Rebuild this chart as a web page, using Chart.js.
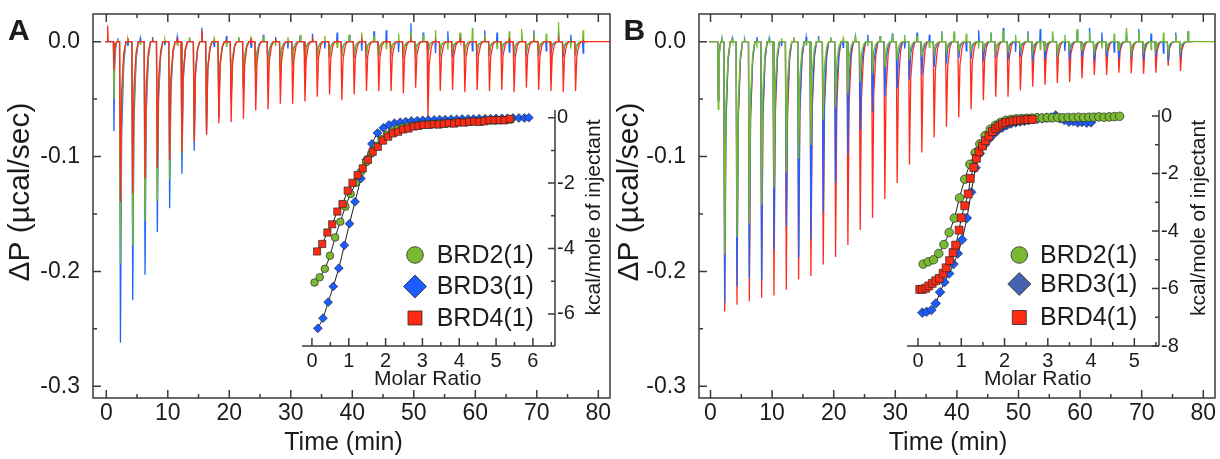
<!DOCTYPE html>
<html>
<head>
<meta charset="utf-8">
<script src="https://cdn.jsdelivr.net/npm/chart.js@4.4.1/dist/chart.umd.min.js"></script>
<style>
  html, body { margin: 0; padding: 0; background: #fff; }
  #wrap { position: relative; width: 1220px; height: 459px; overflow: hidden; }
  canvas { position: absolute; }
</style>
</head>
<body>
<div id="wrap">
  <canvas id="mainA" width="613" height="459" style="left:0;top:0"></canvas>
  <canvas id="mainB" width="614" height="459" style="left:606px;top:0"></canvas>
  <canvas id="insetA" width="315" height="295" style="left:295px;top:100px"></canvas>
  <canvas id="insetB" width="315" height="295" style="left:900px;top:100px"></canvas>
</div>
<script>
// ---- data ----
const seriesNames = ['BRD2(1)', 'BRD3(1)', 'BRD4(1)'];

// injection times (min), same protocol in both experiments
const injTimes = [1.2, 2.2, 4.2, 6.2, 8.2, 10.2, 12.2, 14.2, 16.2, 18.2, 20.2, 22.2, 24.2, 26.2, 28.2, 30.2,
  32.2, 34.2, 36.2, 38.2, 40.2, 42.2, 44.2, 46.2, 48.2, 50.2, 52.2, 54.2, 56.2, 58.2, 60.2, 62.2,
  64.2, 66.2, 68.2, 70.2, 72.2, 74.2, 76.2];

// panel A raw thermograms: peak minimum of each injection (µcal/sec)
const peaksA_BRD2 = [-0.050, -0.193, -0.177, -0.156, -0.139, -0.120, -0.097, -0.085, -0.072, -0.060, -0.050, -0.042, -0.035,
  -0.030, -0.025, -0.021, -0.018, -0.016, -0.014, -0.013, -0.012, -0.012, -0.011, -0.010, -0.011, -0.009, -0.010, -0.009,
  -0.008, -0.010, -0.008, -0.009, -0.008, -0.010, -0.008, -0.009, -0.007, -0.008, -0.009];
const peaksA_BRD3 = [-0.078, -0.262, -0.225, -0.203, -0.166, -0.145, -0.115, -0.095, -0.080, -0.066, -0.052, -0.040, -0.030,
  -0.024, -0.020, -0.017, -0.015, -0.014, -0.013, -0.012, -0.014, -0.011, -0.012, -0.010, -0.013, -0.011, -0.012, -0.010,
  -0.014, -0.011, -0.010, -0.012, -0.011, -0.013, -0.010, -0.012, -0.011, -0.013, -0.012];
const peaksA_BRD4 = [-0.025, -0.140, -0.132, -0.119, -0.110, -0.103, -0.096, -0.087, -0.081, -0.071, -0.070, -0.067, -0.060,
  -0.059, -0.054, -0.054, -0.052, -0.048, -0.046, -0.051, -0.046, -0.043, -0.043, -0.043, -0.045, -0.040, -0.066, -0.043,
  -0.042, -0.044, -0.042, -0.043, -0.042, -0.044, -0.040, -0.042, -0.043, -0.044, -0.043];
// baseline noise blip after each injection
const noiseA_BRD2 = [0.002, 0.003, -0.002, 0.003, 0.002, -0.003, 0.004, 0.005, 0.003, -0.004, 0.004, 0.003, 0.005, -0.004,
  0.004, 0.006, 0.003, 0.005, -0.005, 0.006, 0.008, 0.005, -0.006, 0.007, 0.009, 0.006, 0.010, -0.007, 0.008, 0.012, 0.006,
  -0.006, 0.009, 0.011, 0.008, 0.007, 0.017, -0.006, 0.010];
const noiseA_BRD3 = [0.003, -0.004, 0.003, 0.004, -0.003, 0.004, 0.003, 0.012, -0.004, 0.005, 0.004, -0.005, 0.006, 0.004,
  -0.006, 0.005, 0.007, -0.006, 0.008, 0.006, -0.008, 0.009, 0.010, -0.009, 0.016, 0.008, -0.010, 0.009, 0.007, -0.008,
  0.010, 0.008, -0.009, 0.007, 0.010, -0.008, 0.009, 0.006, -0.010];
const noiseA_BRD4 = [0, 0.002, 0, 0.001, 0, 0.002, 0, 0.010, 0, 0.001, 0, 0.002, 0, 0.001, 0, 0, 0.002, 0, 0.001, 0, 0.002,
  0, 0.001, 0, 0.002, 0, 0.001, 0, 0.002, 0, 0.001, 0, 0.002, 0, 0.001, 0, 0.002, 0, 0.001];
const startSpikeA_BRD4 = 0.014;

// panel B raw thermograms
const peaksB_BRD2 = [-0.059, -0.1855, -0.170, -0.158, -0.142, -0.127, -0.114, -0.102, -0.090, -0.068, -0.057, -0.046, -0.035,
  -0.0275, -0.022, -0.016, -0.016, -0.013, -0.010, -0.009, -0.008, -0.008, -0.007, -0.009, -0.008, -0.007, -0.009, -0.008,
  -0.010, -0.007, -0.008, -0.009, -0.007, -0.008, -0.010, -0.008, -0.007, -0.009, -0.008];
const peaksB_BRD3 = [-0.052, -0.2275, -0.213, -0.206, -0.208, -0.181, -0.161, -0.188, -0.172, -0.148, -0.123, -0.0985, -0.077,
  -0.061, -0.048, -0.0405, -0.033, -0.029, -0.022, -0.019, -0.0145, -0.015, -0.017, -0.014, -0.016, -0.013, -0.017, -0.015,
  -0.013, -0.016, -0.014, -0.017, -0.013, -0.015, -0.014, -0.016, -0.013, -0.017, -0.014];
const peaksB_BRD4 = [-0.050, -0.235, -0.229, -0.226, -0.223, -0.221, -0.216, -0.207, -0.204, -0.194, -0.1875, -0.177, -0.164,
  -0.1535, -0.137, -0.123, -0.107, -0.0965, -0.0835, -0.074, -0.066, -0.059, -0.051, -0.048, -0.048, -0.0425, -0.039,
  -0.0375, -0.036, -0.035, -0.032, -0.029, -0.029, -0.027, -0.0275, -0.028, -0.027, -0.021, -0.0255];
const noiseB_BRD2 = [0.002, 0.002, 0.003, -0.002, 0.002, 0.003, 0.004, -0.003, 0.003, 0.004, 0.003, 0.006, -0.004, 0.005,
  0.004, 0.006, 0.005, -0.005, 0.008, 0.009, 0.007, -0.006, 0.008, 0.010, 0.006, 0.007, -0.007, 0.009, 0.006, 0.011, 0.008,
  -0.006, 0.007, 0.012, 0.009, -0.007, 0.008, 0.006, 0.009];
const noiseB_BRD3 = [0.002, 0.003, 0.002, 0.004, 0.003, -0.004, 0.003, 0.004, 0.005, 0.003, -0.005, 0.004, 0.006, 0.005,
  0.007, -0.006, 0.008, 0.006, 0.009, 0.007, -0.008, 0.010, 0.008, 0.012, -0.009, 0.009, 0.011, 0.007, -0.008, 0.010, 0.012,
  0.008, -0.009, 0.009, 0.011, 0.007, -0.010, 0.008, 0.009];

// panel A isotherms: molar ratio and kcal/mole of injectant
const mrA_BRD2 = [0.07, 0.21, 0.35, 0.49, 0.63, 0.77, 0.91, 1.05, 1.19, 1.33, 1.47, 1.61, 1.75, 1.89, 2.03, 2.17, 2.31, 2.45,
  2.59, 2.73, 2.87, 3.01, 3.15, 3.29, 3.43, 3.57, 3.71, 3.85, 3.99, 4.13, 4.27, 4.41, 4.55, 4.69, 4.83, 4.97, 5.11, 5.25, 5.39];
const heatA_BRD2 = [-5.04, -4.88, -4.62, -4.22, -3.66, -3.18, -2.72, -2.33, -1.99, -1.66, -1.36, -1.10, -0.86, -0.66, -0.52,
  -0.42, -0.35, -0.30, -0.27, -0.25, -0.23, -0.21, -0.20, -0.19, -0.18, -0.17, -0.16, -0.15, -0.14, -0.13, -0.12, -0.11,
  -0.11, -0.10, -0.09, -0.09, -0.08, -0.07, -0.06];
const mrA_BRD3 = [0.16, 0.30, 0.44, 0.58, 0.73, 0.88, 1.02, 1.17, 1.33, 1.48, 1.63, 1.78, 1.94, 2.09, 2.24, 2.40, 2.55, 2.70,
  2.86, 3.01, 3.16, 3.32, 3.47, 3.62, 3.78, 3.93, 4.08, 4.24, 4.39, 4.54, 4.70, 4.85, 5.00, 5.16, 5.31, 5.46, 5.62, 5.77, 5.89];
const heatA_BRD3 = [-6.44, -6.13, -5.64, -5.16, -4.60, -3.90, -3.24, -2.57, -1.86, -1.28, -0.80, -0.47, -0.31, -0.22, -0.17,
  -0.14, -0.12, -0.10, -0.09, -0.08, -0.07, -0.07, -0.06, -0.06, -0.05, -0.05, -0.04, -0.04, -0.04, -0.03, -0.03, -0.03,
  -0.02, -0.02, -0.02, -0.01, -0.01, -0.01, 0.00];
const mrA_BRD4 = [0.14, 0.28, 0.42, 0.55, 0.69, 0.83, 0.97, 1.10, 1.24, 1.38, 1.52, 1.65, 1.79, 1.93, 2.07, 2.20, 2.34, 2.48,
  2.62, 2.76, 2.89, 3.03, 3.17, 3.31, 3.44, 3.58, 3.72, 3.86, 3.99, 4.13, 4.27, 4.41, 4.55, 4.68, 4.82, 4.96, 5.10, 5.23, 5.37];
const heatA_BRD4 = [-4.09, -3.86, -3.51, -3.26, -2.87, -2.64, -2.23, -1.99, -1.75, -1.55, -1.29, -1.04, -0.89, -0.70, -0.58,
  -0.48, -0.43, -0.36, -0.33, -0.27, -0.25, -0.22, -0.22, -0.20, -0.21, -0.19, -0.17, -0.18, -0.14, -0.15, -0.13, -0.12,
  -0.13, -0.11, -0.07, -0.08, -0.07, -0.08, -0.04];

// panel B isotherms
const mrB_BRD2 = [0.12, 0.24, 0.36, 0.48, 0.60, 0.72, 0.84, 0.96, 1.08, 1.20, 1.32, 1.43, 1.55, 1.67, 1.79, 1.91, 2.03, 2.15,
  2.27, 2.39, 2.51, 2.63, 2.75, 2.87, 2.99, 3.11, 3.23, 3.35, 3.47, 3.59, 3.71, 3.83, 3.95, 4.06, 4.18, 4.30, 4.42, 4.54, 4.66];
const heatB_BRD2 = [-5.15, -5.07, -5.00, -4.78, -4.47, -4.05, -3.55, -2.85, -2.20, -1.68, -1.28, -0.97, -0.68, -0.46, -0.32,
  -0.22, -0.15, -0.12, -0.10, -0.09, -0.08, -0.07, -0.06, -0.07, -0.06, -0.06, -0.05, -0.06, -0.05, -0.05, -0.04, -0.05,
  -0.04, -0.04, -0.03, -0.04, -0.03, -0.02, -0.01];
const mrB_BRD3 = [0.10, 0.20, 0.31, 0.41, 0.51, 0.61, 0.72, 0.82, 0.92, 1.02, 1.13, 1.23, 1.33, 1.43, 1.54, 1.64, 1.74, 1.84,
  1.95, 2.05, 2.15, 2.26, 2.36, 2.46, 2.56, 2.67, 2.77, 2.87, 2.97, 3.08, 3.18, 3.28, 3.38, 3.49, 3.59, 3.69, 3.79, 3.90, 4.00];
const heatB_BRD3 = [-6.84, -6.81, -6.75, -6.52, -6.13, -5.78, -5.48, -5.15, -4.78, -4.30, -3.55, -2.65, -1.80, -1.30, -1.00,
  -0.80, -0.64, -0.50, -0.40, -0.32, -0.26, -0.22, -0.19, -0.17, -0.14, -0.11, -0.09, -0.08, -0.06, -0.05, 0.02, -0.08,
  -0.14, -0.20, -0.18, -0.22, -0.21, -0.23, -0.22];
const mrB_BRD4 = [0.04, 0.10, 0.18, 0.25, 0.33, 0.41, 0.49, 0.58, 0.65, 0.73, 0.81, 0.87, 0.95, 1.00, 1.08, 1.16, 1.21, 1.29,
  1.35, 1.41, 1.49, 1.56, 1.64, 1.72, 1.80, 1.87, 1.95, 2.03, 2.12, 2.20, 2.29, 2.37, 2.47, 2.54, 2.64];
const heatB_BRD4 = [-6.03, -6.03, -5.99, -5.91, -5.82, -5.73, -5.65, -5.47, -5.28, -5.03, -4.75, -4.49, -3.97, -3.54, -3.12,
  -2.71, -2.17, -1.79, -1.47, -1.24, -1.04, -0.86, -0.70, -0.54, -0.43, -0.35, -0.28, -0.23, -0.20, -0.17, -0.16, -0.14,
  -0.14, -0.12, -0.12];

// ticks
const timeTicks = [0, 10, 20, 30, 40, 50, 60, 70, 80];
const timeMinor = [5, 15, 25, 35, 45, 55, 65, 75];
const dpTicks = [0, -0.1, -0.2, -0.3];
const dpLabels = ['0.0', '-0.1', '-0.2', '-0.3'];
const dpMinor = [-0.05, -0.15, -0.25];
const mrTicksA = [0, 1, 2, 3, 4, 5, 6];
const mrMinorA = [0.5, 1.5, 2.5, 3.5, 4.5, 5.5, 6.5];
const mrTicksB = [0, 1, 2, 3, 4, 5];
const mrMinorB = [0.5, 1.5, 2.5, 3.5, 4.5, 5.5];
const kcalTicksA = [0, -2, -4, -6];
const kcalMinorA = [-1, -3, -5];
const kcalTicksB = [0, -2, -4, -6, -8];
const kcalMinorB = [-1, -3, -5, -7];

// ---- styling ----
const FONT = "'Liberation Sans', Arial, sans-serif";
const COL = {
  red: '#ff2b1c', blue: '#1f63ff', green: '#72bd2a',
  mRed: '#ff2a14', mBlue: '#1b5cff', mGreen: '#7ab932', legBlueB: '#4763ad',
  axis: '#3a3a3a', text: '#1c1c1c'
};

function buildTrace(peaks, noise, t0, t1, lead) {
  const pts = [{ x: t0, y: 0 }];
  if (lead) pts.push({ x: 0.15, y: 0 }, { x: 0.22, y: lead }, { x: 0.32, y: 0 });
  injTimes.forEach((t, k) => {
    const gap = (k + 1 < injTimes.length ? injTimes[k + 1] : t + 2) - t;
    const s = Math.min(gap, 2) / 2;
    const p = peaks[k];
    pts.push({ x: t - 0.04, y: 0 }, { x: t + 0.1 * s, y: p }, { x: t + 0.3 * s, y: p * 0.3 },
      { x: t + 0.65 * s, y: p * 0.07 }, { x: t + 1.0 * s, y: 0 });
    const w = noise ? noise[k] : 0;
    if (w) pts.push({ x: t + 1.25 * s, y: 0 }, { x: t + 1.33 * s, y: w }, { x: t + 1.42 * s, y: 0 });
  });
  pts.push({ x: t1, y: 0 });
  return pts;
}

function marker(ctx, style, x, y, r, fill, stroke, bw) {
  ctx.beginPath();
  if (style === 'circle') ctx.arc(x, y, r, 0, Math.PI * 2);
  else if (style === 'rectRot') { ctx.moveTo(x - r, y); ctx.lineTo(x, y - r); ctx.lineTo(x + r, y); ctx.lineTo(x, y + r); ctx.closePath(); }
  else { const h = r * Math.SQRT1_2; ctx.rect(x - h, y - h, 2 * h, 2 * h); }
  ctx.fillStyle = fill; ctx.fill();
  ctx.lineWidth = bw; ctx.strokeStyle = stroke; ctx.stroke();
}

// axes box, inward ticks, free texts and legend
const decor = {
  id: 'decor',
  afterDraw(chart, args, o) {
    const ctx = chart.ctx, a = chart.chartArea, xs = chart.scales.x, ys = chart.scales.y;
    ctx.save();
    ctx.strokeStyle = COL.axis; ctx.lineWidth = 1.5; ctx.lineCap = 'butt';
    ctx.beginPath();
    if (o.full) ctx.rect(a.left, a.top, a.right - a.left, a.bottom - a.top);
    else { ctx.moveTo(a.left, a.bottom); ctx.lineTo(a.right, a.bottom); ctx.moveTo(a.right, a.bottom); ctx.lineTo(a.right, a.top); }
    ctx.stroke();
    ctx.beginPath();
    const xt = (v, len) => {
      const px = xs.getPixelForValue(v);
      ctx.moveTo(px, a.bottom); ctx.lineTo(px, a.bottom - len);
      if (o.topTicks) { ctx.moveTo(px, a.top); ctx.lineTo(px, a.top + len); }
    };
    const yt = (v, len) => {
      const py = ys.getPixelForValue(v);
      if (o.ySide === 'left') { ctx.moveTo(a.left, py); ctx.lineTo(a.left + len, py); }
      else { ctx.moveTo(a.right, py); ctx.lineTo(a.right - len, py); }
    };
    xs.ticks.forEach(t => xt(t.value, o.major));
    o.xMinor.forEach(v => xt(v, o.minor));
    ys.ticks.forEach(t => yt(t.value, o.yMajor || o.major));
    o.yMinor.forEach(v => yt(v, o.minor));
    ctx.stroke();

    ctx.fillStyle = COL.text;
    (o.texts || []).forEach(t => {
      ctx.save();
      ctx.font = t.font;
      ctx.textAlign = t.align || 'center';
      ctx.textBaseline = t.base || 'middle';
      ctx.translate(t.x, t.y);
      if (t.rot) ctx.rotate(t.rot);
      ctx.fillText(t.text, 0, 0);
      ctx.restore();
    });

    if (o.legend) {
      const L = o.legend;
      const marks = chart.data.datasets.filter(d => d.isMarker);
      marks.forEach((d, i) => {
        marker(ctx, d.pointStyle, L.x, L.ys[i], L.r[i], d.legendColor || d.backgroundColor, '#2a2a2a', 0.8);
        ctx.fillStyle = COL.text;
        ctx.font = L.font; ctx.textAlign = 'left'; ctx.textBaseline = 'middle';
        ctx.fillText(d.label, L.textX, L.ys[i] + 1);
      });
    }
    ctx.restore();
  }
};

function mainChart(id, traces, box, texts) {
  return new Chart(document.getElementById(id), {
    type: 'scatter',
    data: {
      datasets: traces.map(tr => ({
        data: buildTrace(tr.peaks, tr.noise, tr.t0, tr.t1, tr.lead),
        showLine: true, borderColor: tr.color, borderWidth: 1.3, pointRadius: 0, tension: 0, order: tr.order
      }))
    },
    options: {
      responsive: false, animation: false, devicePixelRatio: 1, events: [],
      layout: { padding: { top: 14, right: box.padRight, left: 0, bottom: 0 } },
      plugins: {
        legend: { display: false }, tooltip: { enabled: false },
        decor: { full: true, topTicks: true, ySide: 'left', major: 8, minor: 4, xMinor: timeMinor, yMinor: dpMinor, texts }
      },
      scales: {
        x: {
          type: 'linear', min: box.xMin, max: box.xMax,
          grid: { display: false, drawTicks: false }, border: { display: false },
          ticks: { autoSkip: false, maxRotation: 0, padding: 2, color: COL.text, font: { family: FONT, size: 23 }, callback: v => String(v) },
          afterBuildTicks: s => { s.ticks = timeTicks.map(v => ({ value: v })); },
          afterFit: s => { s.height = 61; s.paddingLeft = 0; s.paddingRight = 0; }
        },
        y: {
          type: 'linear', min: -0.3102, max: 0.0241,
          grid: { display: false, drawTicks: false }, border: { display: false },
          ticks: { autoSkip: false, padding: 13, color: COL.text, font: { family: FONT, size: 23 }, callback: (v, i) => dpLabels[i] },
          afterBuildTicks: s => { s.ticks = dpTicks.map(v => ({ value: v })); },
          afterFit: s => { s.width = 93; s.paddingTop = 0; s.paddingBottom = 0; }
        }
      }
    },
    plugins: [decor]
  });
}

function insetChart(id, series, ax, texts, legend) {
  const datasets = [];
  series.forEach(s => {
    const pts = s.mr.map((m, j) => ({ x: m, y: s.heat[j] }));
    datasets.push({ data: pts, showLine: true, borderColor: '#151515', borderWidth: 1, pointRadius: 0, tension: 0.2, order: 10 });
    datasets.push({
      label: s.name, data: pts, showLine: false, pointStyle: s.style, pointRadius: s.r,
      backgroundColor: s.color, borderColor: '#2a2a2a', borderWidth: 0.7, order: s.order, isMarker: true, legendColor: s.legendColor
    });
  });
  return new Chart(document.getElementById(id), {
    type: 'scatter',
    data: { datasets },
    options: {
      responsive: false, animation: false, devicePixelRatio: 1, events: [],
      layout: { padding: { top: 10, left: 7, right: 0, bottom: 0 } },
      plugins: {
        legend: { display: false }, tooltip: { enabled: false },
        decor: { full: false, topTicks: false, ySide: 'right', major: 8, yMajor: 7, minor: 4, xMinor: ax.xMinor, yMinor: ax.yMinor, texts, legend }
      },
      scales: {
        x: {
          type: 'linear', min: ax.xMin, max: ax.xMax,
          grid: { display: false, drawTicks: false }, border: { display: false },
          ticks: { autoSkip: false, maxRotation: 0, padding: 3, color: COL.text, font: { family: FONT, size: 20 }, callback: v => String(v) },
          afterBuildTicks: s => { s.ticks = ax.xTicks.map(v => ({ value: v })); },
          afterFit: s => { s.height = 49; s.paddingLeft = 0; s.paddingRight = 0; }
        },
        y: {
          type: 'linear', position: 'right', min: ax.yMin, max: ax.yMax,
          grid: { display: false, drawTicks: false }, border: { display: false },
          ticks: { autoSkip: false, padding: 2, color: COL.text, font: { family: FONT, size: 20 }, callback: v => String(v) },
          afterBuildTicks: s => { s.ticks = ax.yTicks.map(v => ({ value: v })); },
          afterFit: s => { s.width = ax.yWidth; s.paddingTop = 0; s.paddingBottom = 0; }
        }
      }
    },
    plugins: [decor]
  });
}

const titleFont = '30px ' + FONT;
const timeFont = '25px ' + FONT;
const panelFont = 'bold 30px ' + FONT;
const insetFont = '21px ' + FONT;
const legendFont = '25px ' + FONT;

mainChart('mainA', [
  { peaks: peaksA_BRD3, noise: noiseA_BRD3, t0: -0.2, t1: 78.3, color: COL.blue, order: 3 },
  { peaks: peaksA_BRD2, noise: noiseA_BRD2, t0: -0.2, t1: 78.3, color: COL.green, order: 2 },
  { peaks: peaksA_BRD4, noise: noiseA_BRD4, t0: -0.2, t1: 82, lead: startSpikeA_BRD4, color: COL.red, order: 1 }
], { xMin: -2.16, xMax: 81.9, padRight: 3 }, [
  { text: 'A', x: 8, y: 40, font: panelFont, align: 'left', base: 'alphabetic' },
  { text: 'ΔP (µcal/sec)', x: 21, y: 192, rot: -Math.PI / 2, font: titleFont },
  { text: 'Time (min)', x: 343.5, y: 443, font: timeFont }
]);

mainChart('mainB', [
  { peaks: peaksB_BRD4, noise: null, t0: -0.2, t1: 78.3, color: COL.red, order: 3 },
  { peaks: peaksB_BRD3, noise: noiseB_BRD3, t0: -0.2, t1: 78.3, color: COL.blue, order: 2 },
  { peaks: peaksB_BRD2, noise: noiseB_BRD2, t0: -0.2, t1: 82, color: COL.green, order: 1 }
], { xMin: -1.87, xMax: 81.9, padRight: 5 }, [
  { text: 'B', x: 17.6, y: 40, font: panelFont, align: 'left', base: 'alphabetic' },
  { text: 'ΔP (µcal/sec)', x: 24, y: 192, rot: -Math.PI / 2, font: titleFont },
  { text: 'Time (min)', x: 342, y: 443, font: timeFont }
]);

insetChart('insetA', [
  { name: seriesNames[0], mr: mrA_BRD2, heat: heatA_BRD2, style: 'circle', r: 3.8, color: COL.mGreen, order: 2 },
  { name: seriesNames[1], mr: mrA_BRD3, heat: heatA_BRD3, style: 'rectRot', r: 4.4, color: COL.mBlue, order: 3 },
  { name: seriesNames[2], mr: mrA_BRD4, heat: heatA_BRD4, style: 'rect', r: 5.1, color: COL.mRed, order: 1 }
], { xMin: -0.27, xMax: 6.6, yMin: -6.98, yMax: 0.235, xTicks: mrTicksA, xMinor: mrMinorA, yTicks: kcalTicksA, yMinor: kcalMinorA, yWidth: 55 }, [
  { text: 'Molar Ratio', x: 132.7, y: 279, font: insetFont },
  { text: 'kcal/mole of injectant', x: 299, y: 117.5, rot: -Math.PI / 2, font: insetFont }
], { x: 120, ys: [155, 186.5, 218], r: [8.3, 11.5, 9.9], textX: 141.7, font: legendFont });

insetChart('insetB', [
  { name: seriesNames[0], mr: mrB_BRD2, heat: heatB_BRD2, style: 'circle', r: 4.3, color: COL.mGreen, order: 2 },
  { name: seriesNames[1], mr: mrB_BRD3, heat: heatB_BRD3, style: 'rectRot', r: 4.8, color: COL.mBlue, order: 3, legendColor: COL.legBlueB },
  { name: seriesNames[2], mr: mrB_BRD4, heat: heatB_BRD4, style: 'rect', r: 5.6, color: COL.mRed, order: 1 }
], { xMin: -0.254, xMax: 5.57, yMin: -8.0, yMax: 0.21, xTicks: mrTicksB, xMinor: mrMinorB, yTicks: kcalTicksB, yMinor: kcalMinorB, yWidth: 56 }, [
  { text: 'Molar Ratio', x: 137.7, y: 279, font: insetFont },
  { text: 'kcal/mole of injectant', x: 299, y: 118, rot: -Math.PI / 2, font: insetFont }
], { x: 119.3, ys: [155, 184, 217.5], r: [8.3, 11.5, 9.9], textX: 140, font: legendFont });
</script>
</body>
</html>
